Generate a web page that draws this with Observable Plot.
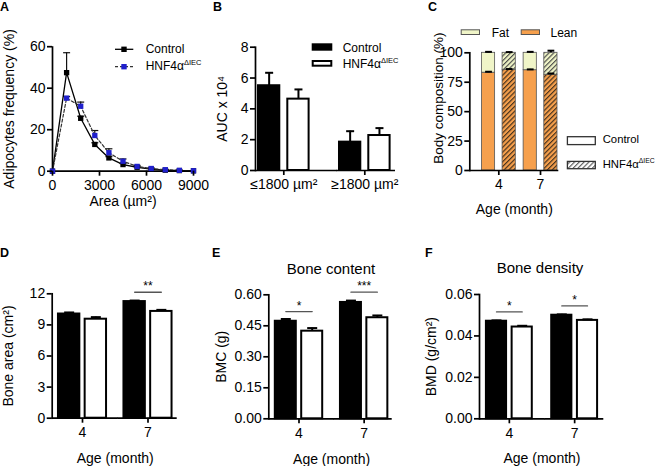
<!DOCTYPE html>
<html><head><meta charset="utf-8">
<script src="https://cdn.jsdelivr.net/npm/d3@7"></script>
<script src="https://cdn.jsdelivr.net/npm/@observablehq/plot@0.6"></script>
<style>
body{margin:0;background:#fff;}
#fig{position:relative;width:656px;height:466px;overflow:hidden;font-family:"Liberation Sans",Arial,Helvetica,sans-serif;color:#000;background:#fff;}
.t{position:absolute;white-space:nowrap;line-height:1;}
.letter{font-weight:bold;font-size:12.5px;}
.leg{font-size:12px;}
.legs{font-size:11.3px;}
.ttl{font-size:15px;transform:translateX(-50%);}
.sup{font-size:7.5px;position:relative;top:-5px;line-height:0;}
.legs .sup{font-size:6.8px;}
</style></head><body>
<svg width="0" height="0" style="position:absolute;left:0;top:0">
 <defs>
  <pattern id="hatchLean" patternUnits="userSpaceOnUse" width="3.4" height="3.4" patternTransform="rotate(45)">
   <rect width="3.4" height="3.4" fill="#F6A04D"/>
   <line x1="0.6" y1="0" x2="0.6" y2="3.4" stroke="#3a2a1a" stroke-width="1.1"/>
  </pattern>
  <pattern id="hatchFat" patternUnits="userSpaceOnUse" width="3.4" height="3.4" patternTransform="rotate(45)">
   <rect width="3.4" height="3.4" fill="#F0F5C8"/>
   <line x1="0.6" y1="0" x2="0.6" y2="3.4" stroke="#444" stroke-width="1.1"/>
  </pattern>
  <pattern id="hatchLegend" patternUnits="userSpaceOnUse" width="3.4" height="3.4" patternTransform="rotate(45)">
   <rect width="3.4" height="3.4" fill="#fff"/>
   <line x1="0.6" y1="0" x2="0.6" y2="3.4" stroke="#555" stroke-width="1.1"/>
  </pattern>
 </defs>
</svg>
<div id="fig"></div>
<script>
// ---------------- DATA ----------------
const genotypes = ["Control", "HNF"];
const genotypeLabels = ["Control", "HNF4α<span class=\"sup\">ΔIEC</span>"];

// A: adipocyte size distribution
const areaBins = [0, 900, 1800, 2700, 3600, 4500, 5400, 6300, 7200, 8100, 9000];
const freqControl    = [0, 47.5, 25.5, 12.9, 6.4, 3.2, 1.9, 1.0, 0.5, 0.3, 0.2];
const freqControlErr = [0, 9.6, 1.0, 0.8, 0.6, 0.5, 0.3, 0.2, 0.1, 0.1, 0];
const freqHNF        = [0, 35.2, 31.3, 17.2, 8.9, 4.8, 2.3, 1.3, 0.7, 0.4, 0.2];
const freqHNFErr     = [0, 0.8, 2.0, 2.4, 1.9, 1.1, 0.5, 0.3, 0.2, 0.1, 0];

// B: AUC
const aucGroups = ["≤1800 µm²", "≥1800 µm²"];
const aucControl = [5.50, 1.84], aucControlErr = [0.84, 0.71];
const aucHNF = [4.63, 2.27], aucHNFErr = [0.63, 0.48];

// C: body composition
const ages = ["4", "7"];
const compParts = ["Lean", "Fat"];
const leanControl = [83.1, 85.2], leanControlErr = [0.8, 0.7];
const fatControl = [16.9, 14.8], fatControlErr = [0.8, 0.8];
const leanHNF = [85.6, 81.4], leanHNFErr = [0.6, 1.0];
const fatHNF = [14.4, 18.6], fatHNFErr = [0.6, 1.8];

// D: bone area
const boneAreaControl = [10.05, 11.25], boneAreaControlErr = [0.15, 0.10];
const boneAreaHNF = [9.55, 10.30], boneAreaHNFErr = [0.20, 0.15];
const sigD = [{age: "7", level: 12.15, label: "**"}];

// E: bone content
const bmcControl = [0.472, 0.563], bmcControlErr = [0.011, 0.009];
const bmcHNF = [0.424, 0.489], bmcHNFErr = [0.015, 0.011];
const sigE = [{age: "4", level: 0.519, label: "*"}, {age: "7", level: 0.6125, label: "***"}];

// F: bone density
const bmdControl = [0.0471, 0.0500], bmdControlErr = [0.0004, 0.0004];
const bmdHNF = [0.0443, 0.0475], bmdHNFErr = [0.0006, 0.0005];
const sigF = [{age: "4", level: 0.0516, label: "*"}, {age: "7", level: 0.0545, label: "*"}];

// ---------------- STYLE / LAYOUT ----------------
const W = 656, H = 466;
const FONT = '"Liberation Sans", Arial, Helvetica, sans-serif';
const STYLE = `position:absolute;left:0;top:0;background:transparent;overflow:visible;font-family:${FONT};font-size:13px;color:#000;`;
const BLUE = "#2020cc", ORANGE = "#F6A04D", FATC = "#F0F5C8";
const AX = {tickSize: 5, fontSize: 14, strokeWidth: 1.7, labelAnchor: "center", labelArrow: "none"};
const capSymbol = {draw(ctx, size) { const w = Math.sqrt(size / Math.PI); ctx.moveTo(-w, 0); ctx.lineTo(w, 0); }};
const fig = document.getElementById("fig");
function add(node) { fig.append(node); }

// ---------------- PANEL A ----------------
{
  const series = [{g: "Control", f: freqControl, e: freqControlErr}, {g: "HNF", f: freqHNF, e: freqHNFErr}];
  const rows = series.flatMap(s => areaBins.map((a, i) => ({g: s.g, area: a, f: s.f[i], e: s.e[i]})));
  const ctrl = rows.filter(d => d.g === "Control"), hnf = rows.filter(d => d.g === "HNF");
  const errs = rows.filter(d => d.e > 0);
  add(Plot.plot({
    width: W, height: H, marginLeft: 52, marginRight: W - 193, marginTop: 46.2, marginBottom: H - 170.7,
    style: STYLE,
    x: {domain: [0, 9000]}, y: {domain: [0, 60]},
    marks: [
      Plot.ruleX(errs, {x: "area", y1: "f", y2: d => d.f + d.e, stroke: "#111", strokeWidth: 1.2}),
      Plot.dot(errs, {x: "area", y: d => d.f + d.e, symbol: capSymbol, r: 3.5, stroke: "#111", strokeWidth: 1.2, fill: "none"}),
      Plot.line(ctrl, {x: "area", y: "f", stroke: "#000", strokeWidth: 1.3}),
      Plot.line(hnf, {x: "area", y: "f", stroke: "#333", strokeWidth: 1.2, strokeDasharray: "3,2"}),
      Plot.ruleY([0], {strokeWidth: 1.7}),
      Plot.ruleX([0], {strokeWidth: 1.7}),
      Plot.dot(ctrl, {x: "area", y: "f", symbol: "square", r: 3, fill: "#000"}),
      Plot.dot(hnf, {x: "area", y: "f", symbol: "square", r: 3, fill: BLUE}),
      Plot.axisX({...AX, ticks: [0, 3000, 6000, 9000], tickFormat: d => String(d), tickPadding: 4, label: "Area (µm²)", labelOffset: 34.3}),
      Plot.axisY({...AX, ticks: [0, 20, 40, 60], tickPadding: 2, label: "Adipocytes frequency (%)", labelOffset: 48.5})
    ]
  }));
}

// ---------------- GROUPED BAR PANELS (B, D, E, F) ----------------
function barPanel(c) {
  const bw = 2 * (c.c1 - c.L), step = c.c2 - c.c1, right = c.L + step + bw;
  const rows = c.groups.flatMap((grp, i) => [
    {grp, g: "Control", m: c.ctrl[i], e: c.ctrlErr[i]},
    {grp, g: "HNF", m: c.hnf[i], e: c.hnfErr[i]}
  ]);
  const sig = c.sig || [];
  const sigPts = sig.flatMap(s => genotypes.map(g => ({...s, g})));
  const first = c.groups[0], second = c.groups[1];
  return Plot.plot({
    width: W, height: H, marginLeft: c.L, marginRight: W - right, marginTop: c.top, marginBottom: H - c.bottom,
    style: STYLE,
    fx: {domain: c.groups, paddingInner: 1 - bw / step, paddingOuter: 0, round: false},
    x: {domain: genotypes, paddingInner: c.xpi, paddingOuter: c.xpo, round: false, axis: null},
    y: {domain: c.yDomain},
    color: {domain: genotypes, range: ["#000", "#fff"]},
    marks: [
      Plot.barY(rows, {fx: "grp", x: "g", y: "m", fill: "g", stroke: "#000", strokeWidth: 2, insetLeft: 1, insetRight: 1}),
      Plot.ruleX(rows, {fx: "grp", x: "g", y1: "m", y2: d => d.m + d.e, stroke: "#000", strokeWidth: 2}),
      Plot.dot(rows, {fx: "grp", x: "g", y: d => d.m + d.e, symbol: capSymbol, r: c.capR, stroke: "#000", strokeWidth: 2, fill: "none"}),
      Plot.ruleY([0], {fx: () => first, insetRight: -(step - bw) - 0.5, strokeWidth: 1.7}),
      Plot.ruleY([0], {fx: () => second, insetRight: right - c.R, strokeWidth: 1.7}),
      Plot.frame({anchor: "left", fx: () => first, strokeWidth: 1.7}),
      Plot.line(sigPts, {fx: "age", x: "g", y: "level", z: "age", stroke: "#555", strokeWidth: 1.3}),
      Plot.text(sig, {fx: "age", y: "level", text: "label", lineAnchor: "bottom", dy: -2, fontSize: 12}),
      Plot.axisY({...AX, ticks: c.yTicks, tickFormat: c.yFormat, tickPadding: 2, label: c.yLabel, labelOffset: c.yLabelOffset}),
      Plot.axisFx({...AX, anchor: "bottom", tickPadding: 4, label: c.xLabel || null, labelOffset: c.xLabelOffset})
    ]
  });
}

add(barPanel({groups: aucGroups, ctrl: aucControl, ctrlErr: aucControlErr, hnf: aucHNF, hnfErr: aucHNFErr,
  L: 255, R: 395, c1: 283.3, c2: 364.3, top: 46.7, bottom: 170, xpi: 0.205, xpo: 0.068, capR: 4,
  yDomain: [0, 8], yTicks: [0, 2, 4, 6, 8], yFormat: d => String(d), yLabel: "AUC x 10⁴", yLabelOffset: 38.5}));

add(barPanel({groups: ages, ctrl: boneAreaControl, ctrlErr: boneAreaControlErr, hnf: boneAreaHNF, hnfErr: boneAreaHNFErr,
  L: 51.7, R: 176.7, c1: 82, c2: 147.5, top: 293.3, bottom: 417.7, xpi: 0.124, xpo: 0.197, capR: 5,
  yDomain: [0, 12], yTicks: [0, 3, 6, 9, 12], yFormat: d => String(d), yLabel: "Bone area (cm²)", yLabelOffset: 49.2,
  xLabel: "Age (month)", xLabelOffset: 45, sig: sigD}));

add(barPanel({groups: ages, ctrl: bmcControl, ctrlErr: bmcControlErr, hnf: bmcHNF, hnfErr: bmcHNFErr,
  L: 268.3, R: 391.7, c1: 298.5, c2: 363.65, top: 294.3, bottom: 418.3, xpi: 0.129, xpo: 0.2085, capR: 5,
  yDomain: [0, 0.6], yTicks: [0, 0.15, 0.30, 0.45, 0.60], yFormat: d3.format(".2f"), yLabel: "BMC (g)", yLabelOffset: 52.3,
  xLabel: "Age (month)", xLabelOffset: 45, sig: sigE}));

add(barPanel({groups: ages, ctrl: bmdControl, ctrlErr: bmdControlErr, hnf: bmdHNF, hnfErr: bmdHNFErr,
  L: 479, R: 603.3, c1: 508.85, c2: 574.15, top: 294, bottom: 418.3, xpi: 0.138, xpo: 0.23, capR: 5,
  yDomain: [0, 0.06], yTicks: [0, 0.02, 0.04, 0.06], yFormat: d3.format(".2f"), yLabel: "BMD (g/cm²)", yLabelOffset: 53,
  xLabel: "Age (month)", xLabelOffset: 44, sig: sigF}));

// ---------------- PANEL C ----------------
{
  const slot = {w: 14, stroke: 0.8, ctrlLeft: 1, hnfLeft: 21.67};
  const bandW = 36.57;
  const ins = left => ({insetLeft: left + slot.stroke / 2, insetRight: bandW - left - slot.w + slot.stroke / 2});
  const shift = left => left + slot.w / 2 - bandW / 2;
  const stackRows = (lean, fat, g) => compParts.flatMap(p => ages.map((age, i) => ({age, g, part: p, v: (p === "Lean" ? lean : fat)[i]})));
  const errRows = (lean, leanErr, fat, fatErr, g) => ages.flatMap((age, i) => [
    {age, g, y: lean[i], e: leanErr[i]}, {age, g, y: lean[i] + fat[i], e: fatErr[i]}]);
  const eC = errRows(leanControl, leanControlErr, fatControl, fatControlErr, "Control");
  const eH = errRows(leanHNF, leanHNFErr, fatHNF, fatHNFErr, "HNF");
  const fillKey = d => d.g + " " + d.part;
  add(Plot.plot({
    width: W, height: H, marginLeft: 469.3, marginRight: W - 558.3, marginTop: 52.3, marginBottom: H - 170,
    style: STYLE,
    x: {domain: ages, paddingInner: 0.123, paddingOuter: 0.1285, align: 1, round: false},
    y: {domain: [0, 100]},
    color: {type: "ordinal", domain: ["Control Lean", "Control Fat", "HNF Lean", "HNF Fat"],
            range: [ORANGE, FATC, "url(#hatchLean)", "url(#hatchFat)"]},
    marks: [
      Plot.barY(stackRows(leanControl, fatControl, "Control"), {x: "age", y: "v", fill: fillKey, stroke: "#555", strokeWidth: slot.stroke, ...ins(slot.ctrlLeft)}),
      Plot.barY(stackRows(leanHNF, fatHNF, "HNF"), {x: "age", y: "v", fill: fillKey, stroke: "#555", strokeWidth: slot.stroke, ...ins(slot.hnfLeft)}),
      Plot.ruleX(eC, {x: "age", y1: "y", y2: d => d.y + d.e, dx: shift(slot.ctrlLeft), strokeWidth: 2}),
      Plot.dot(eC, {x: "age", y: d => d.y + d.e, dx: shift(slot.ctrlLeft), symbol: capSymbol, r: 3.4, stroke: "#000", strokeWidth: 2, fill: "none"}),
      Plot.ruleX(eH, {x: "age", y1: "y", y2: d => d.y + d.e, dx: shift(slot.hnfLeft), strokeWidth: 2}),
      Plot.dot(eH, {x: "age", y: d => d.y + d.e, dx: shift(slot.hnfLeft), symbol: capSymbol, r: 3.4, stroke: "#000", strokeWidth: 2, fill: "none"}),
      Plot.ruleY([0], {strokeWidth: 1.7}),
      Plot.frame({anchor: "left", strokeWidth: 1.7}),
      Plot.axisX({...AX, tickPadding: 4, label: "Age (month)", labelOffset: 43}),
      Plot.axisY({...AX, ticks: [0, 25, 50, 75, 100], tickPadding: 2, label: null}),
      Plot.text(["Body composition (%)"], {frameAnchor: "left", textAnchor: "middle", lineAnchor: "middle", rotate: -90, dx: -31.3, dy: -13.6, fontSize: 13.5})
    ]
  }));
}

// ---------------- HTML TEXT: letters, titles, legends ----------------
function text(html, left, top, cls) {
  const d = document.createElement("div");
  d.className = "t " + cls; d.innerHTML = html;
  d.style.left = left + "px"; d.style.top = top + "px";
  fig.append(d);
}
const letters = [["A", 0, 1.1], ["B", 213, 1.1], ["C", 428, 1.1], ["D", 0, 247.4], ["E", 212, 247.4], ["F", 425, 247.4]];
letters.forEach(([l, x, y]) => text(l, x, y, "letter"));
text("Bone content", 331, 260.6, "ttl");
text("Bone density", 540, 260.3, "ttl");

// legend swatches (inline svg overlay)
const NS = "http://www.w3.org/2000/svg";
const leg = document.createElementNS(NS, "svg");
leg.setAttribute("width", W); leg.setAttribute("height", H);
leg.setAttribute("style", "position:absolute;left:0;top:0;overflow:visible");
leg.innerHTML = `
  <line x1="115" y1="49.3" x2="133.3" y2="49.3" stroke="#000" stroke-width="1.3"/>
  <rect x="121.3" y="46.6" width="5.4" height="5.4" fill="#000"/>
  <line x1="115" y1="66.7" x2="133.3" y2="66.7" stroke="#333" stroke-width="1.2" stroke-dasharray="3,2"/>
  <rect x="121.3" y="64" width="5.4" height="5.4" fill="${BLUE}"/>
  <rect x="312.7" y="44.3" width="18.6" height="5.4" fill="#000" stroke="#000" stroke-width="2"/>
  <rect x="312.7" y="61" width="18.6" height="4.7" fill="#fff" stroke="#000" stroke-width="2"/>
  <rect x="461.2" y="29.8" width="18.3" height="4.7" fill="${FATC}" stroke="#555" stroke-width="1"/>
  <rect x="521.2" y="29.8" width="18.3" height="4.7" fill="${ORANGE}" stroke="#555" stroke-width="1"/>
  <rect x="567.4" y="136.7" width="27.9" height="7.9" fill="#fff" stroke="#333" stroke-width="1.3"/>
  <rect x="567.4" y="161.4" width="27.9" height="7.3" fill="url(#hatchLegend)" stroke="#333" stroke-width="1.3"/>`;
fig.append(leg);

text(genotypeLabels[0], 145.7, 42.7, "leg");
text(genotypeLabels[1], 145.7, 60.1, "leg");
text(genotypeLabels[0], 342.7, 41.7, "leg");
text(genotypeLabels[1], 342.7, 58.4, "leg");
text("Fat", 491.7, 26.8, "leg");
text("Lean", 550.5, 26.8, "leg");
text(genotypeLabels[0], 602.7, 134.4, "legs");
text(genotypeLabels[1], 602.7, 159.4, "legs");
</script>
</body></html>
